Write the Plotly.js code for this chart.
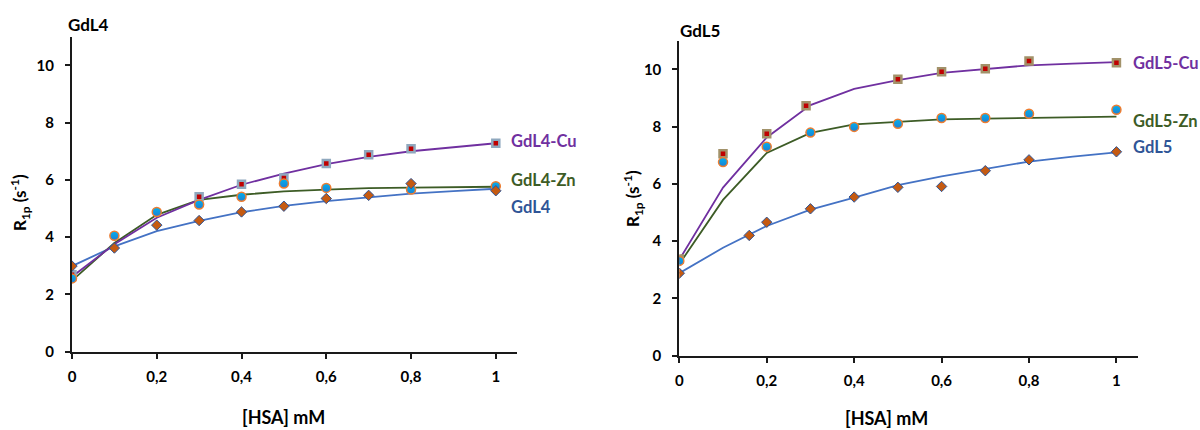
<!DOCTYPE html>
<html>
<head>
<meta charset="utf-8">
<script src="https://cdn.plot.ly/plotly-3.0.1.min.js"></script>
<style>html,body{margin:0;padding:0;background:#fff;}#chart{width:1200px;height:430px;}</style>
</head>
<body>
<div id="chart"></div>
<script>
// ---------- data ----------
const xFit = [0, 0.1, 0.2, 0.3, 0.4, 0.5, 0.6, 0.7, 0.8, 0.9, 1.0];

// GdL4 panel (left)
const gdl4Fit   = [2.99, 3.68, 4.21, 4.57, 4.87, 5.09, 5.26, 5.40, 5.52, 5.61, 5.69];
const gdl4CuFit = [2.62, 3.75, 4.68, 5.30, 5.83, 6.22, 6.55, 6.80, 7.00, 7.15, 7.28];
const gdl4ZnFit = [2.48, 3.80, 4.78, 5.30, 5.48, 5.60, 5.66, 5.71, 5.73, 5.75, 5.76];

const gdl4X   = [0, 0.1, 0.2, 0.3, 0.4, 0.5, 0.6, 0.7, 0.8, 1.0];
const gdl4Y   = [2.99, 3.62, 4.42, 4.58, 4.88, 5.08, 5.35, 5.46, 5.87, 5.62];
const gdl4CuX = [0, 0.3, 0.4, 0.5, 0.6, 0.7, 0.8, 1.0];
const gdl4CuY = [2.69, 5.41, 5.85, 6.07, 6.57, 6.88, 7.09, 7.28];
const gdl4ZnX = [0, 0.1, 0.2, 0.3, 0.4, 0.5, 0.6, 0.8, 1.0];
const gdl4ZnY = [2.56, 4.05, 4.88, 5.14, 5.41, 5.87, 5.72, 5.66, 5.78];

// GdL5 panel (right)
const gdl5Fit   = [2.88, 3.77, 4.53, 5.10, 5.52, 5.96, 6.26, 6.53, 6.78, 6.95, 7.10];
const gdl5CuFit = [3.35, 5.87, 7.62, 8.75, 9.32, 9.62, 9.88, 10.02, 10.14, 10.20, 10.25];
const gdl5ZnFit = [3.20, 5.44, 7.08, 7.78, 8.08, 8.17, 8.25, 8.28, 8.31, 8.33, 8.35];

const gdl5X   = [0, 0.16, 0.2, 0.3, 0.4, 0.5, 0.6, 0.7, 0.8, 1.0];
const gdl5Y   = [2.88, 4.20, 4.66, 5.13, 5.54, 5.88, 5.91, 6.46, 6.84, 7.12];
const gdl5CuX = [0, 0.1, 0.2, 0.29, 0.5, 0.6, 0.7, 0.8, 1.0];
const gdl5CuY = [3.38, 7.05, 7.75, 8.73, 9.65, 9.92, 10.02, 10.29, 10.23];
const gdl5ZnX = [0, 0.1, 0.2, 0.3, 0.4, 0.5, 0.6, 0.7, 0.8, 1.0];
const gdl5ZnY = [3.31, 6.76, 7.30, 7.79, 7.99, 8.10, 8.30, 8.30, 8.45, 8.59];

const xTickVals = [0, 0.2, 0.4, 0.6, 0.8, 1];
const xTickText = ['0', '0,2', '0,4', '0,6', '0,8', '1'];
const yTickVals = [0, 2, 4, 6, 8, 10];

const panelTitles = ['GdL4', 'GdL5'];
const seriesLabels4 = ['GdL4-Cu', 'GdL4-Zn', 'GdL4'];
const seriesLabels5 = ['GdL5-Cu', 'GdL5-Zn', 'GdL5'];
const xTitle = '[HSA] mM';
const yTitle = 'R<sub>1p</sub> (s<sup>-1</sup>)';

// ---------- styles ----------
const FONT = 'Lato, "Noto Sans", sans-serif';
const C_CU = '#7030A0', C_ZN = '#3D5C26', C_L = '#4472C4';
const C_CU_LBL = '#7030A0', C_ZN_LBL = '#3D5C26', C_L_LBL = '#2F5597';

function fitLine(x, y, color, xa, ya) {
  return {x, y, xaxis: xa, yaxis: ya, type: 'scatter', mode: 'lines',
          line: {color, width: 1.8}, hoverinfo: 'skip'};
}
function sq(x, y, outline, xa, ya) {
  return {x, y, xaxis: xa, yaxis: ya, type: 'scatter', mode: 'markers',
          marker: {symbol: 'square', size: 7, color: '#C00000', line: {color: outline, width: 2.5}}};
}
function circ(x, y, xa, ya) {
  return {x, y, xaxis: xa, yaxis: ya, type: 'scatter', mode: 'markers',
          marker: {symbol: 'circle', size: 9, color: '#00B0F0',
                   gradient: {type: 'vertical', color: '#1F7FD0'},
                   line: {color: '#ED7D31', width: 1.5}}};
}
function dia(x, y, xa, ya) {
  return {x, y, xaxis: xa, yaxis: ya, type: 'scatter', mode: 'markers',
          marker: {symbol: 'diamond', size: 8, color: '#C55A11', line: {color: '#2F5597', width: 1}}};
}

const traces = [
  fitLine(xFit, gdl4Fit, C_L, 'x', 'y'),
  fitLine(xFit, gdl4ZnFit, C_ZN, 'x', 'y'),
  fitLine(xFit, gdl4CuFit, C_CU, 'x', 'y'),
  sq(gdl4CuX, gdl4CuY, '#8FA8BE', 'x', 'y'),
  circ(gdl4ZnX, gdl4ZnY, 'x', 'y'),
  dia(gdl4X, gdl4Y, 'x', 'y'),
  fitLine(xFit, gdl5Fit, C_L, 'x2', 'y2'),
  fitLine(xFit, gdl5ZnFit, C_ZN, 'x2', 'y2'),
  fitLine(xFit, gdl5CuFit, C_CU, 'x2', 'y2'),
  sq(gdl5CuX, gdl5CuY, '#A2926A', 'x2', 'y2'),
  circ(gdl5ZnX, gdl5ZnY, 'x2', 'y2'),
  dia(gdl5X, gdl5Y, 'x2', 'y2')
];

const W = 1200, H = 430;
const px = v => v / W, py = v => 1 - v / H;

const tickFont = {family: FONT, size: 15, color: '#000', weight: 'bold'};
function xAxis(domain, anchor) {
  return {domain, anchor, range: [0, 1.05], tickvals: xTickVals, ticktext: xTickText,
          showgrid: false, zeroline: false, showline: true, linecolor: '#1a1a1a', linewidth: 2,
          ticks: 'outside', ticklen: 5, tickwidth: 2, tickcolor: '#1a1a1a',
          tickfont: tickFont, ticklabelstandoff: 5, fixedrange: true};
}
function yAxis(domain, anchor) {
  return {domain, anchor, range: [0, 11], tickvals: yTickVals,
          showgrid: false, zeroline: false, showline: true, linecolor: '#1a1a1a', linewidth: 2,
          ticks: 'outside', ticklen: 5, tickwidth: 2, tickcolor: '#1a1a1a',
          tickfont: tickFont, ticklabelstandoff: 8, fixedrange: true};
}

function ann(text, x, y, opts) {
  return Object.assign({text, xref: 'paper', yref: 'paper', x: px(x), y: py(y),
    showarrow: false, xanchor: 'left', yanchor: 'middle',
    font: {family: FONT, size: 16, color: '#000', weight: 'bold'}}, opts || {});
}

const annotations = [
  ann(panelTitles[0], 66, 24, {font: {family: FONT, size: 17, color: '#000', weight: 'bold'}}),
  ann(panelTitles[1], 678, 30, {font: {family: FONT, size: 17, color: '#000', weight: 'bold'}}),
  ann(seriesLabels4[0], 509, 141, {font: {family: FONT, size: 16.5, color: C_CU_LBL, weight: 'bold'}}),
  ann(seriesLabels4[1], 509, 180, {font: {family: FONT, size: 16.5, color: C_ZN_LBL, weight: 'bold'}}),
  ann(seriesLabels4[2], 509, 207, {font: {family: FONT, size: 16.5, color: C_L_LBL, weight: 'bold'}}),
  ann(seriesLabels5[0], 1131, 63, {font: {family: FONT, size: 16.5, color: C_CU_LBL, weight: 'bold'}}),
  ann(seriesLabels5[1], 1131, 121, {font: {family: FONT, size: 16.5, color: C_ZN_LBL, weight: 'bold'}}),
  ann(seriesLabels5[2], 1131, 147, {font: {family: FONT, size: 16.5, color: C_L_LBL, weight: 'bold'}}),
  ann(xTitle, 283, 417, {xanchor: 'center', font: {family: FONT, size: 18, color: '#000', weight: 'bold'}}),
  ann(xTitle, 886, 418, {xanchor: 'center', font: {family: FONT, size: 18, color: '#000', weight: 'bold'}}),
  ann(yTitle, 20, 203, {xanchor: 'center', textangle: -90, font: {family: FONT, size: 17, color: '#000', weight: 'bold'}}),
  ann(yTitle, 633, 199, {xanchor: 'center', textangle: -90, font: {family: FONT, size: 17, color: '#000', weight: 'bold'}})
];

const layout = {
  width: W, height: H, autosize: false,
  margin: {l: 0, r: 0, t: 0, b: 0, pad: 0},
  paper_bgcolor: '#fff', plot_bgcolor: '#fff',
  showlegend: false,
  font: {family: FONT},
  xaxis: xAxis([px(72), px(517)], 'y'),
  yaxis: yAxis([py(351.7), py(36.7)], 'x'),
  xaxis2: xAxis([px(679.3), px(1138.3)], 'y2'),
  yaxis2: yAxis([py(355.7), py(40.7)], 'x2'),
  annotations
};

Plotly.newPlot('chart', traces, layout, {staticPlot: true, displayModeBar: false});
</script>
</body>
</html>
